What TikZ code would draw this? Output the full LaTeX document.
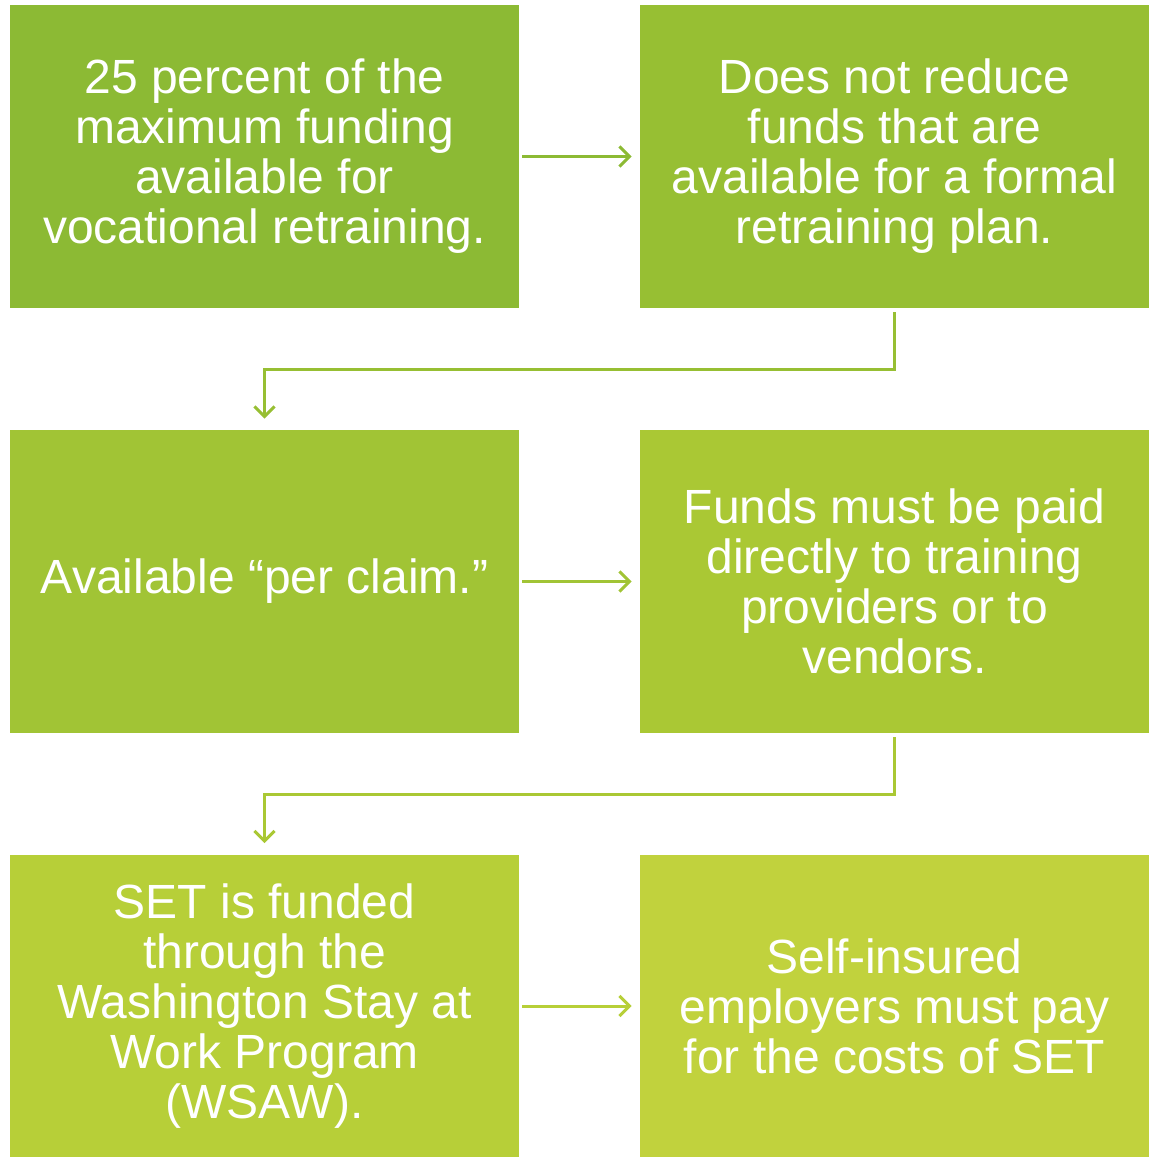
\documentclass[tikz,border=0pt]{standalone}
\usepackage{fontspec}
\setmainfont{Liberation Sans}
\usetikzlibrary{arrows.meta}
\definecolor{stepA}{HTML}{8CBA34}
\definecolor{stepB}{HTML}{97BF33}
\definecolor{stepC}{HTML}{A1C435}
\definecolor{stepD}{HTML}{AAC834}
\definecolor{stepE}{HTML}{B7CF38}
\definecolor{stepF}{HTML}{C1D23D}

\begin{document}
\begin{tikzpicture}[x=0.5pt,y=-0.5pt]
   \useasboundingbox (0,0) rectangle (1154,1157);
   \fontsize{24}{25}\selectfont
   \tikzstyle{box}=[rectangle, minimum width=254.5pt, minimum height=151.5pt, inner sep=0pt, text=white, align=center]
   \tikzstyle{link}=[line width=1.5pt, -{Straight Barb[length=5pt, width=10pt, line width=1.5pt]}]
   \node[box, fill=stepA] (b1) at (264.5,156.5) {25 percent of the\\maximum funding\\available for\\vocational retraining.};
   \node[box, fill=stepB] (b2) at (894.5,156.5) {Does not reduce\\funds that are\\available for a formal\\retraining plan.};
   \node[box, fill=stepC] (b3) at (264.5,581.5) {Available “per claim.”};
   \node[box, fill=stepD] (b4) at (894.5,581.5) {Funds must be paid\\directly to training\\providers or to\\vendors.};
   \node[box, fill=stepE] (b5) at (264.5,1006) {SET is funded\\through the\\Washington Stay at\\Work Program\\(WSAW).};
   \node[box, fill=stepF] (b6) at (894.5,1006) {Self-insured\\employers must pay\\for the costs of SET};
   \foreach \a/\b/\c in {b1/b2/stepA,b3/b4/stepC,b5/b6/stepE} {
       \draw[link, \c, shorten <=1.5pt, shorten >=4pt] (\a.east) -- (\b.west);
   }
   \draw[link, stepB, shorten <=2pt, shorten >=5.5pt] (b2.south) -- ++(0,61) -| (b3.north);
   \draw[link, stepD, shorten <=2pt, shorten >=5.5pt] (b4.south) -- ++(0,61) -| (b5.north);
\end{tikzpicture}
\end{document}
